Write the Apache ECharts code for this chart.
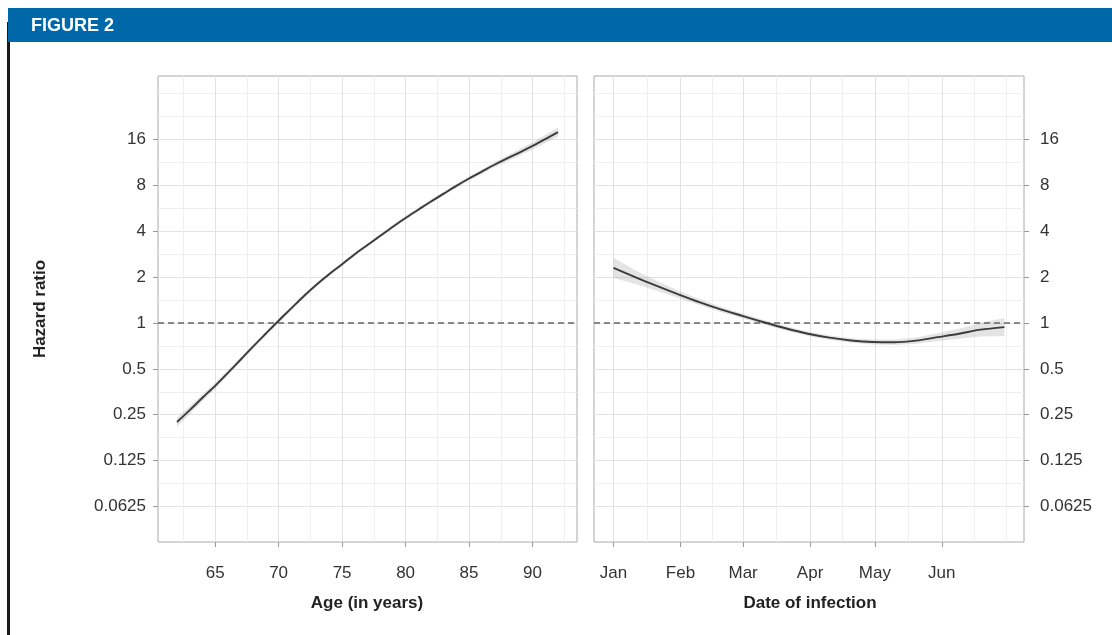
<!DOCTYPE html>
<html><head><meta charset="utf-8">
<script src="https://cdn.jsdelivr.net/npm/echarts@6/dist/echarts.min.js"></script>
<style>html,body{margin:0;padding:0;background:#fff}#c{width:1112px;height:635px}</style>
</head><body><div id="c"></div>
<script>
// ---------- data (hazard ratios) ----------
const ageX = [62,63,64,65,66,67,68,69,70,71,72,73,74,75,76,77,78,79,80,81,82,83,84,85,86,87,88,89,90,91,92];
const ageHR = [0.224,0.268,0.323,0.387,0.470,0.574,0.702,0.853,1.035,1.248,1.505,1.790,2.099,2.428,2.828,3.249,3.732,4.287,4.891,5.541,6.277,7.062,7.945,8.877,9.849,10.93,12.04,13.18,14.52,16.11,17.88];
const ageLower = [0.209,0.252,0.306,0.369,0.451,0.555,0.680,0.827,1.003,1.214,1.464,1.741,2.042,2.362,2.751,3.161,3.630,4.170,4.758,5.390,6.106,6.870,7.729,8.602,9.516,10.52,11.54,12.55,13.74,15.14,16.68];
const ageUpper = [0.240,0.285,0.341,0.406,0.490,0.594,0.724,0.880,1.068,1.283,1.547,1.840,2.158,2.496,2.907,3.340,3.836,4.407,5.028,5.696,6.453,7.260,8.167,9.161,10.19,11.36,12.56,13.84,15.35,17.14,19.17];

const dateX = ['2020-01-01','2020-01-11','2020-01-21','2020-01-31','2020-02-10','2020-02-20','2020-03-01','2020-03-11','2020-03-21','2020-03-31','2020-04-10','2020-04-20','2020-04-30','2020-05-10','2020-05-20','2020-05-30','2020-06-09','2020-06-19','2020-06-30'];
const dateHR = [2.297,2.000,1.753,1.542,1.366,1.223,1.110,1.007,0.920,0.850,0.801,0.768,0.750,0.747,0.766,0.807,0.850,0.904,0.940];
const dateLower = [1.972,1.802,1.625,1.459,1.306,1.177,1.072,0.973,0.889,0.821,0.774,0.742,0.722,0.716,0.730,0.761,0.788,0.814,0.818];
const dateUpper = [2.676,2.220,1.891,1.630,1.429,1.271,1.149,1.042,0.952,0.880,0.829,0.795,0.779,0.779,0.804,0.856,0.917,1.003,1.080];

const yTickValues = [0.0625,0.125,0.25,0.5,1,2,4,8,16];
const yTickLabels = ['0.0625','0.125','0.25','0.5','1','2','4','8','16'];
const ageTicks = [65,70,75,80,85,90];
const ageTickLabels = ['65','70','75','80','85','90'];
const monthTickDates = ['2020-01-01','2020-02-01','2020-03-01','2020-04-01','2020-05-01','2020-06-01'];
const monthTickLabels = ['Jan','Feb','Mar','Apr','May','Jun'];
const monthExtraDate = '2020-07-01';
const refHR = 1;

// ---------- helpers ----------
const T0 = Date.parse('2020-01-01');
const day = d => (Date.parse(d) - T0) / 86400000;
const L2 = v => Math.log2(v);

const yMajor = yTickValues.map(L2);
const yMinor = [];
for (let i = 0; i < yMajor.length - 1; i++) yMinor.push((yMajor[i] + yMajor[i+1]) / 2);
yMinor.push(yMajor[yMajor.length-1] + 0.5, yMajor[yMajor.length-1] + 1);
const ageMinor = [ageTicks[0] - 2.5].concat(ageTicks.map(a => a + 2.5));
const monthDays = monthTickDates.map(day);
const extDays = monthDays.concat([day(monthExtraDate)]);
const monthMinor = [];
for (let i = 0; i < extDays.length - 1; i++) monthMinor.push((extDays[i] + extDays[i+1]) / 2);
monthMinor.push(day(monthExtraDate));

const Y_MIN = -4.775, Y_MAX = 5.385;
const FONT = '"Liberation Sans", Arial, sans-serif';
const MAJ = '#e2e2e2', MIN = '#efefef', BORDER = '#aaaaaa', TXT = '#333333';

function mainX(grid, min, max, ticks, labelFn) {
  return {
    type: 'value', gridIndex: grid, min, max, position: 'bottom',
    axisLine: { show: false, onZero: false },
    axisTick: { show: true, customValues: ticks, length: 5, lineStyle: { color: '#999', width: 1 } },
    axisLabel: { customValues: ticks, formatter: labelFn, color: TXT, fontSize: 17, fontFamily: FONT, margin: 23 },
    splitLine: { show: true, lineStyle: { color: MAJ, width: 1 } }
  };
}
function helperX(grid, min, max, vals) {
  return {
    type: 'value', gridIndex: grid, min, max, position: 'top',
    axisLine: { show: false, onZero: false },
    axisTick: { show: false, customValues: vals },
    axisLabel: { show: false, customValues: vals },
    splitLine: { show: true, lineStyle: { color: MIN, width: 1 } }
  };
}
function mainY(grid, pos, margin) {
  return {
    type: 'value', gridIndex: grid, min: Y_MIN, max: Y_MAX, position: pos,
    axisLine: { show: false, onZero: false },
    axisTick: { show: true, customValues: yMajor, length: 5, lineStyle: { color: '#999', width: 1 } },
    axisLabel: { customValues: yMajor, formatter: v => yTickLabels[yMajor.findIndex(m => Math.abs(m - v) < 1e-6)],
      color: TXT, fontSize: 17, fontFamily: FONT, margin: margin },
    splitLine: { show: true, lineStyle: { color: MAJ, width: 1 } }
  };
}
function helperY(grid, pos) {
  return {
    type: 'value', gridIndex: grid, min: Y_MIN, max: Y_MAX, position: pos,
    axisLine: { show: false, onZero: false },
    axisTick: { show: false, customValues: yMinor },
    axisLabel: { show: false, customValues: yMinor },
    splitLine: { show: true, lineStyle: { color: MIN, width: 1 } }
  };
}

function panelSeries(xi, yi, xs, hr, lo, up) {
  const n = xs.length;
  return [
    { type: 'custom', xAxisIndex: xi, yAxisIndex: yi, silent: true, z: 3,
      data: xs.map((x, i) => [x, L2(lo[i]), L2(up[i])]),
      encode: { x: 0, y: [1, 2] },
      renderItem: (params, api) => {
        if (params.dataIndex !== 0) return { type: 'group', children: [] };
        const pts = [];
        for (let i = 0; i < n; i++) pts.push(api.coord([xs[i], L2(up[i])]));
        for (let i = n - 1; i >= 0; i--) pts.push(api.coord([xs[i], L2(lo[i])]));
        return { type: 'polygon', shape: { points: pts }, style: { fill: 'rgba(130,130,130,0.22)', stroke: null } };
      } },
    { type: 'line', xAxisIndex: xi, yAxisIndex: yi, silent: true, symbol: 'none', smooth: 0.3,
      lineStyle: { color: '#3b3b3b', width: 1.9 }, data: xs.map((x, i) => [x, L2(hr[i])]), z: 5,
      markLine: { silent: true, symbol: 'none', label: { show: false },
        lineStyle: { color: '#666', type: [6, 4], width: 1.5 },
        data: [{ yAxis: L2(refHR) }] } }
  ];
}

const chart = echarts.init(document.getElementById('c'), null, { renderer: 'canvas' });
chart.setOption({
  backgroundColor: '#ffffff',
  animation: false,
  grid: [
    { left: 158, top: 76, width: 419, height: 466, show: true, borderColor: BORDER, borderWidth: 1, backgroundColor: '#fff' },
    { left: 594, top: 76, width: 430, height: 466, show: true, borderColor: BORDER, borderWidth: 1, backgroundColor: '#fff' }
  ],
  xAxis: [
    mainX(0, 60.5, 93.5, ageTicks, v => ageTickLabels[ageTicks.indexOf(v)]),
    helperX(0, 60.5, 93.5, ageMinor),
    mainX(1, -9.05, 190.05, monthDays, v => monthTickLabels[monthDays.findIndex(m => Math.abs(m - v) < 1e-6)]),
    helperX(1, -9.05, 190.05, monthMinor)
  ],
  yAxis: [
    mainY(0, 'left', 12), helperY(0, 'right'),
    mainY(1, 'right', 16), helperY(1, 'left')
  ],
  series: [].concat(
    panelSeries(0, 0, ageX, ageHR, ageLower, ageUpper),
    panelSeries(2, 2, dateX.map(day), dateHR, dateLower, dateUpper)
  ),
  graphic: [
    { type: 'rect', shape: { x: 7, y: 22, width: 3, height: 613 }, style: { fill: '#1a1a1a' }, z: 10 },
    { type: 'rect', shape: { x: 8, y: 8, width: 1104, height: 34 }, style: { fill: '#0067a8' }, z: 11 },
    { type: 'text', x: 31, y: 26, z: 12, style: { text: 'FIGURE 2', fill: '#ffffff', font: 'bold 18px ' + FONT, verticalAlign: 'middle', align: 'left' } },
    { type: 'text', x: 367, y: 603, z: 12, style: { text: 'Age (in years)', fill: '#222', font: 'bold 17px ' + FONT, align: 'center', verticalAlign: 'middle' } },
    { type: 'text', x: 810, y: 603, z: 12, style: { text: 'Date of infection', fill: '#222', font: 'bold 17px ' + FONT, align: 'center', verticalAlign: 'middle' } },
    { type: 'text', x: 40, y: 309, rotation: Math.PI / 2, z: 12, style: { text: 'Hazard ratio', fill: '#222', font: 'bold 17px ' + FONT, align: 'center', verticalAlign: 'middle' } }
  ]
});
</script></body></html>
